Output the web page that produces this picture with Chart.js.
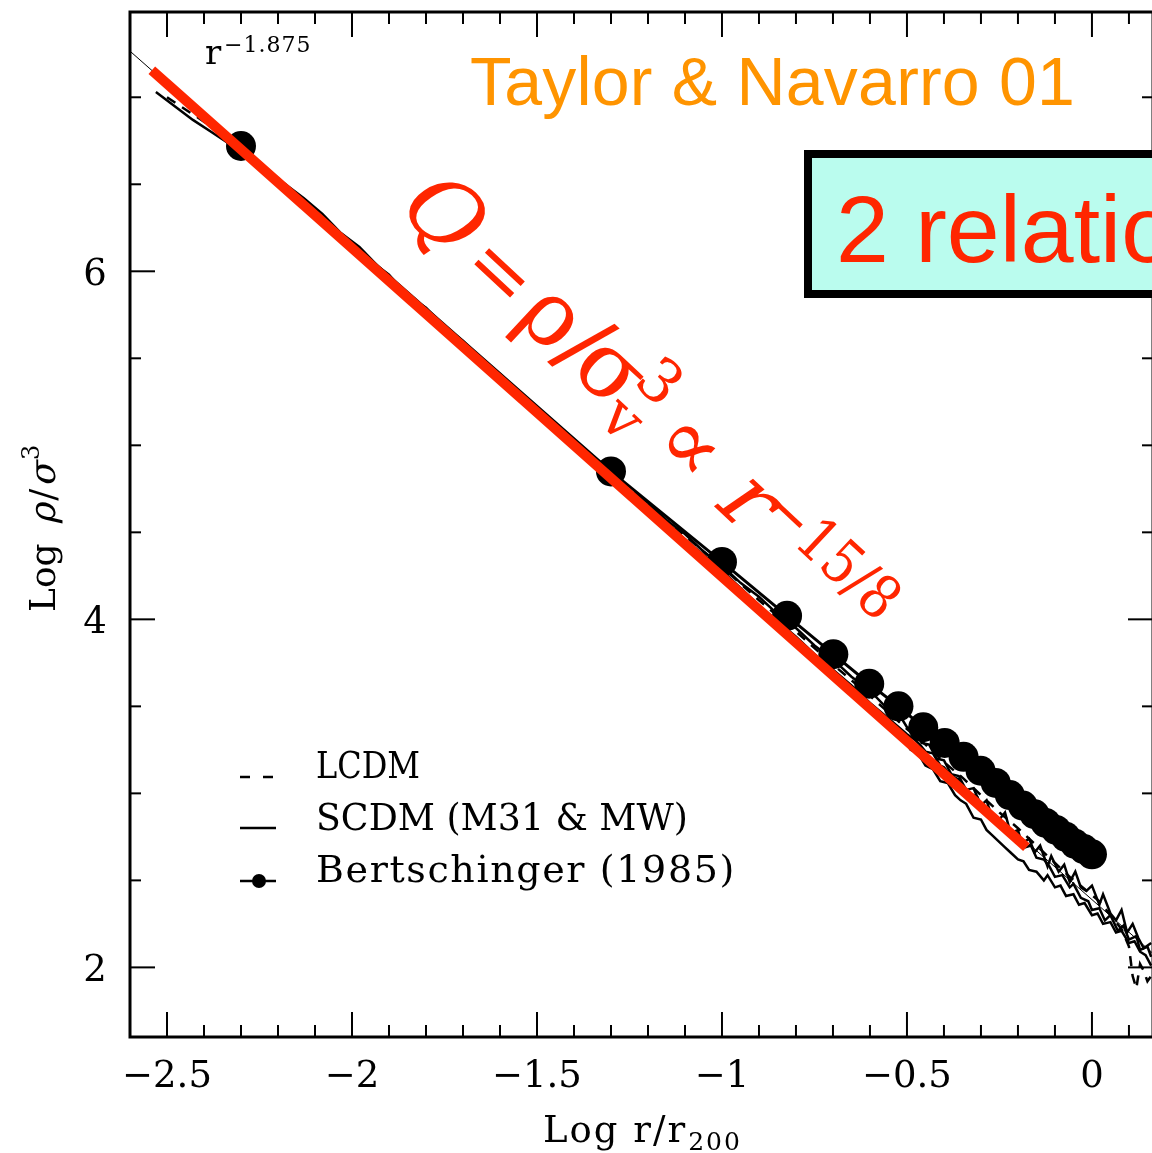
<!DOCTYPE html>
<html><head><meta charset="utf-8">
<script src="https://cdn.jsdelivr.net/npm/chart.js@4.4.0/dist/chart.umd.min.js"></script>
<style>
html,body{margin:0;padding:0;background:#fff;overflow:hidden;width:1152px;height:1153px}
#wrap{position:absolute;left:0;top:0;width:1160px;height:1153px}
</style></head>
<body><div id="wrap"><canvas id="c" width="1160" height="1153"></canvas></div>
<script>
// ---- data ----
const xTickLabels = [-2.5, -2, -1.5, -1, -0.5, 0];
const yTickLabels = [2, 4, 6];
const legendLabels = ["LCDM", "SCDM (M31 & MW)", "Bertschinger (1985)"];

const fitX = [-2.541, -0.177];           // red  rho/sigma^3 ~ r^-15/8
const fitY = [7.155, 2.691];
const refX = [-2.6, 0.165];              // thin r^-1.875 line
const refY = [7.265, 2.08];

const bertX = [-2.30, -1.30, -1.00, -0.824, -0.699, -0.602, -0.523, -0.456, -0.398, -0.347, -0.301, -0.260, -0.222, -0.187, -0.155, -0.125, -0.097, -0.071, -0.046, -0.022, 0.0];
const bertY = [6.72, 4.85, 4.33, 4.02, 3.80, 3.63, 3.50, 3.38, 3.29, 3.21, 3.13, 3.06, 2.99, 2.93, 2.88, 2.83, 2.79, 2.75, 2.71, 2.68, 2.65];

const scdmAX = [-2.53,-2.48,-2.43,-2.38,-2.33,-2.28,-2.23,-2.18,-2.13,-2.08,-2.03,-1.98,-1.93,-1.88,-1.83,-1.78,-1.74,-1.70,-1.65,-1.60,-1.55,-1.50,-1.45,-1.40,-1.35,-1.30,-1.25,-1.20,-1.15,-1.10,-1.05,-1.00,-0.95,-0.90,-0.85,-0.80,-0.75,-0.70,-0.65,-0.60,-0.55,
  -0.50,-0.48,-0.465,-0.45,-0.43,-0.41,-0.40,-0.38,-0.36,-0.35,-0.33,-0.31,-0.30,-0.28,-0.265,-0.25,-0.23,-0.21,-0.20,-0.18,-0.165,-0.15,-0.13,-0.115,-0.10,-0.08,-0.06,-0.05,-0.03,-0.01,0.0,0.02,0.035,0.05,0.07,0.085,0.10,0.12,0.13,0.15,0.16];
const scdmAY = [7.03,6.95,6.87,6.80,6.73,6.66,6.57,6.50,6.42,6.33,6.22,6.14,6.03,5.93,5.83,5.73,5.64,5.58,5.50,5.40,5.31,5.21,5.10,5.02,4.93,4.84,4.74,4.65,4.56,4.46,4.37,4.28,4.18,4.08,3.99,3.90,3.80,3.71,3.62,3.52,3.43,
  3.34,3.31,3.28,3.24,3.23,3.16,3.15,3.10,3.08,3.03,3.00,2.98,2.92,2.90,2.86,2.84,2.80,2.75,2.77,2.69,2.70,2.63,2.62,2.58,2.52,2.53,2.46,2.48,2.40,2.38,2.33,2.34,2.27,2.30,2.21,2.24,2.16,2.18,2.10,2.12,2.06];

const scdmBX = [-2.00,-1.95,-1.90,-1.85,-1.80,-1.75,-1.70,-1.65,-1.60,-1.55,-1.50,-1.45,-1.40,-1.35,-1.30,-1.25,-1.20,-1.15,-1.10,-1.05,-1.00,-0.95,-0.90,-0.85,-0.80,-0.75,-0.70,-0.65,-0.60,-0.55,-0.52,-0.50,-0.48,-0.46,-0.44,-0.42,-0.40,-0.38,-0.36,-0.34,-0.32,
  -0.30,-0.285,-0.27,-0.25,-0.235,-0.22,-0.20,-0.19,-0.17,-0.155,-0.14,-0.12,-0.11,-0.09,-0.075,-0.06,-0.045,-0.03,-0.015,0.0,0.02,0.03,0.05,0.065,0.08,0.095,0.11,0.125,0.14,0.16];
const scdmBY = [6.16,6.06,5.98,5.86,5.79,5.68,5.60,5.49,5.41,5.29,5.22,5.11,5.03,4.92,4.85,4.74,4.67,4.57,4.49,4.39,4.31,4.21,4.13,4.03,3.95,3.85,3.77,3.67,3.59,3.48,3.45,3.38,3.36,3.29,3.28,3.20,3.19,3.11,3.10,3.02,3.03,
  2.93,2.96,2.86,2.85,2.89,2.77,2.79,2.71,2.74,2.66,2.70,2.58,2.64,2.55,2.59,2.49,2.55,2.46,2.44,2.47,2.36,2.42,2.31,2.27,2.33,2.20,2.25,2.17,2.11,2.14];

const scdmCX = [-1.20,-1.15,-1.10,-1.05,-1.00,-0.95,-0.90,-0.85,-0.80,-0.75,-0.70,-0.65,-0.60,-0.56,-0.52,
  -0.49,-0.47,-0.45,-0.43,-0.41,-0.39,-0.37,-0.355,-0.34,-0.32,-0.30,-0.285,-0.27,-0.25,-0.235,-0.22,-0.20,-0.185,-0.17,-0.15,-0.13,-0.12,-0.10,-0.085,-0.07,-0.05,-0.035,-0.02,0.0,0.015,0.03,0.05,0.065,0.08,0.10,0.115,0.13,0.145,0.16];
const scdmCY = [4.62,4.52,4.44,4.33,4.25,4.14,4.06,3.95,3.87,3.76,3.68,3.57,3.49,3.40,3.35,
  3.25,3.23,3.16,3.14,3.07,3.06,2.99,2.96,2.94,2.86,2.85,2.79,2.76,2.72,2.69,2.66,2.62,2.61,2.56,2.55,2.50,2.53,2.46,2.47,2.41,2.42,2.36,2.37,2.30,2.31,2.25,2.26,2.20,2.21,2.14,2.15,2.09,2.07,2.01];

const lcdmX = [-2.50,-2.40,-2.30,-2.20,-2.10,-2.00,-1.90,-1.80,-1.70,-1.60,-1.50,-1.40,-1.30,-1.20,-1.10,-1.00,-0.90,-0.80,-0.70,-0.60,-0.50,-0.45,-0.40,-0.35,-0.30,-0.25,-0.20,-0.15,-0.10,-0.06,-0.02,0.02,0.05,0.08,0.10,0.11,0.12,0.13,0.14,0.15,0.16];
const lcdmY = [7.00,6.86,6.70,6.52,6.34,6.15,5.96,5.77,5.58,5.40,5.21,5.03,4.85,4.66,4.48,4.30,4.11,3.93,3.74,3.56,3.37,3.28,3.18,3.09,2.99,2.89,2.80,2.70,2.60,2.52,2.45,2.38,2.30,2.22,2.12,1.95,1.88,2.02,1.98,1.92,1.95];

const pts = (xs, ys) => xs.map((x, i) => ({x: x, y: ys[i]}));
const RED = 'rgb(255,38,0)';
const SERIF = '"DejaVu Serif", serif';

const decor = {
  id: 'decor',
  afterDraw(chart) {
    const ctx = chart.ctx, xs = chart.scales.x, ys = chart.scales.y, a = chart.chartArea;
    const line = (x1, y1, x2, y2) => { ctx.beginPath(); ctx.moveTo(x1, y1); ctx.lineTo(x2, y2); ctx.stroke(); };
    const fitText = (s, x, y, target) => {
      ctx.letterSpacing = '0px';
      const w = ctx.measureText(s).width;
      if (w > target) {
        ctx.save(); ctx.translate(x, y); ctx.scale(target / w, 1); ctx.fillText(s, 0, 0); ctx.restore();
      } else {
        ctx.letterSpacing = ((target - w) / s.length).toFixed(2) + 'px';
        ctx.fillText(s, x, y);
        ctx.letterSpacing = '0px';
      }
    };
    // slanted (pseudo-italic) text with the upright serif face
    const slant = (s, x, y) => {
      ctx.save(); ctx.translate(x, y); ctx.transform(1, 0, -0.22, 1, 0, 0); ctx.fillText(s, 0, 0); ctx.restore();
      return ctx.measureText(s).width;
    };
    ctx.save();
    ctx.strokeStyle = '#000'; ctx.fillStyle = '#000';
    ctx.lineWidth = 3;
    ctx.strokeRect(a.left, a.top, a.right - a.left, a.bottom - a.top);
    ctx.lineWidth = 2;
    for (let k = -26; k <= 1; k++) {
      const px = xs.getPixelForValue(k / 10);
      if (px < a.left + 2 || px > a.right - 2) continue;
      const L = (k % 5 === 0) ? 25 : 12;
      line(px, a.bottom, px, a.bottom - L);
      line(px, a.top, px, a.top + L);
    }
    for (let k = 4; k <= 14; k++) {
      const v = k / 2, py = ys.getPixelForValue(v);
      const L = (v % 2 === 0) ? 25 : 11;
      line(a.left, py, a.left + L, py);
      line(a.right, py, a.right - L, py);
    }
    // tick labels
    ctx.font = '37px ' + SERIF;
    ctx.textAlign = 'center'; ctx.textBaseline = 'alphabetic';
    xTickLabels.forEach(v => {
      const s = (v < 0 ? '\u2212' + String(-v) : String(v));
      ctx.fillText(s, xs.getPixelForValue(v), 1087);
    });
    yTickLabels.forEach(v => {
      ctx.fillText(String(v), 95, ys.getPixelForValue(v) + 14);
    });
    // x title
    ctx.textAlign = 'left';
    ctx.letterSpacing = '2px';
    ctx.font = '37px ' + SERIF;
    ctx.fillText('Log r/r', 543, 1142);
    let w = ctx.measureText('Log r/r').width;
    ctx.font = '25px ' + SERIF;
    ctx.fillText('200', 543 + w + 1, 1150);
    ctx.letterSpacing = '0px';
    // y title
    ctx.save();
    ctx.translate(55, 612); ctx.rotate(-Math.PI / 2);
    ctx.font = '36px ' + SERIF;
    ctx.fillText('Log', 0, 0);
    w = ctx.measureText('Log ').width + 8;
    w += slant('\u03C1', w, 0) + 2;
    ctx.fillText('/', w, 0);
    w += ctx.measureText('/').width + 2;
    w += slant('\u03C3', w, 0);
    ctx.font = '24px ' + SERIF;
    ctx.fillText('3', w + 2, -16);
    ctx.restore();
    // r^-1.875
    ctx.font = '34px ' + SERIF;
    ctx.fillText('r', 205, 64);
    ctx.font = '22px ' + SERIF;
    ctx.letterSpacing = '1px';
    ctx.fillText('\u22121.875', 224, 52);
    ctx.letterSpacing = '0px';
    // legend
    ctx.lineWidth = 2.5;
    line(240, 777, 250, 777); line(263, 777, 273, 777);
    line(240, 828, 276, 828);
    line(240, 881, 276, 881);
    ctx.beginPath(); ctx.arc(259, 881, 7, 0, 2 * Math.PI); ctx.fill();
    ctx.font = '38px ' + SERIF;
    fitText(legendLabels[0], 316, 778, 104);
    fitText(legendLabels[1], 316, 830, 372);
    fitText(legendLabels[2], 316, 882, 420);
    // Taylor & Navarro 01
    ctx.fillStyle = 'rgb(255,148,0)';
    ctx.font = '68px "Liberation Sans", Arial, sans-serif';
    fitText('Taylor & Navarro 01', 470, 105, 605);
    // box
    ctx.fillStyle = 'rgb(186,252,238)';
    ctx.fillRect(808, 154, 400, 140);
    ctx.strokeStyle = '#000'; ctx.lineWidth = 8;
    ctx.strokeRect(808, 154, 400, 140);
    ctx.fillStyle = RED;
    ctx.font = '95px "Liberation Sans", Arial, sans-serif';
    ctx.fillText('2 relations', 836, 262);
    // rotated formula
    ctx.save();
    ctx.translate(391, 205);
    ctx.rotate(43 * Math.PI / 180);
    ctx.fillStyle = RED;
    ctx.font = '90px ' + SERIF;
    slant('Q', 2, 0);
    ctx.font = '78px ' + SERIF;
    ctx.fillText('=', 93, 0);
    ctx.font = '90px ' + SERIF;
    ctx.fillText('\u03C1', 168, 0);
    ctx.fillText('/', 221, 0);
    ctx.fillText('\u03C3', 243, 0);
    ctx.font = '60px ' + SERIF;
    ctx.fillText('v', 298, 18);
    ctx.fillText('3', 298, -34);
    ctx.font = '88px ' + SERIF;
    ctx.fillText('\u221D', 353, 0);
    ctx.font = '90px ' + SERIF;
    slant('r', 438, 0);
    ctx.font = '60px ' + SERIF;
    fitText('\u221215/8', 481, -26, 160);
    ctx.restore();
    ctx.restore();
  }
};

new Chart(document.getElementById('c'), {
  type: 'scatter',
  data: {
    datasets: [
      {data: pts(fitX, fitY), showLine: true, borderColor: RED, borderWidth: 10, pointRadius: 0, borderCapStyle: 'butt', order: 0},
      {data: pts(bertX, bertY), showLine: true, borderColor: '#000', borderWidth: 3, pointRadius: 15, pointBackgroundColor: '#000', pointBorderColor: '#000', pointBorderWidth: 0, order: 1},
      {data: pts(scdmAX, scdmAY), showLine: true, borderColor: '#000', borderWidth: 2.5, pointRadius: 0, order: 2},
      {data: pts(scdmBX, scdmBY), showLine: true, borderColor: '#000', borderWidth: 2.5, pointRadius: 0, order: 2},
      {data: pts(scdmCX, scdmCY), showLine: true, borderColor: '#000', borderWidth: 2.5, pointRadius: 0, order: 2},
      {data: pts(lcdmX, lcdmY), showLine: true, borderColor: '#000', borderWidth: 2.5, borderDash: [10, 8], pointRadius: 0, order: 2},
      {data: pts(refX, refY), showLine: true, borderColor: '#000', borderWidth: 1, pointRadius: 0, order: 3}
    ]
  },
  options: {
    responsive: false,
    animation: false,
    events: [],
    layout: {autoPadding: false, padding: {left: 130, top: 12, right: 7, bottom: 116}},
    plugins: {legend: {display: false}, tooltip: {enabled: false}},
    scales: {
      x: {type: 'linear', min: -2.6, max: 0.165, display: false},
      y: {type: 'linear', min: 1.6, max: 7.49, display: false}
    }
  },
  plugins: [decor]
});
</script>
</body></html>
